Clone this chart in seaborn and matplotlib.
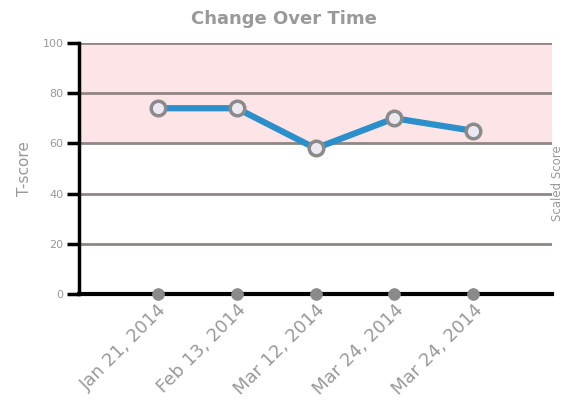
import matplotlib
matplotlib.use("Agg")
import matplotlib.pyplot as plt
import seaborn as sns
import pandas as pd

# data
dates = ["Jan 21, 2014", "Feb 13, 2014", "Mar 12, 2014", "Mar 24, 2014", "Mar 24, 2014"]
tscore = [74, 74, 58, 70, 65]
baseline = [0, 0, 0, 0, 0]
yticks = [0, 20, 40, 60, 80, 100]

df = pd.DataFrame({"pos": range(len(dates)), "date": dates, "tscore": tscore, "base": baseline})

sns.set_style("white")
fig = plt.figure(figsize=(5.68, 4.17), dpi=100)
ax = fig.add_axes([0.139, 0.295, 0.833, 0.602])

# pink band for the elevated range
ax.axhspan(60, 100, color="#fde4e6", zorder=0)
for y in yticks[1:]:
    ax.axhline(y, color="#8f8686", lw=2, zorder=1)

sns.lineplot(data=df, x="pos", y="tscore", ax=ax, color="#2a8fcb", lw=4.5, zorder=3)
sns.scatterplot(data=df, x="pos", y="tscore", ax=ax, s=110, color="#ebe8f2",
                edgecolor="#8a8a8a", linewidth=2.5, zorder=4)
sns.scatterplot(data=df, x="pos", y="base", ax=ax, s=70, color="#8a8a8a",
                edgecolor="#8a8a8a", zorder=4, clip_on=False)

ax.set_xlim(-1, 5)
ax.set_ylim(0, 100)
ax.set_yticks(yticks)
ax.set_yticklabels([str(v) for v in yticks], color="#999999", fontsize=8)
ax.set_xticks(df["pos"])
ax.set_xticklabels(dates, rotation=45, ha="right", rotation_mode="anchor",
                   color="#999999", fontsize=13)
ax.tick_params(axis="y", length=9, width=2.5, color="black", left=True, pad=2)
ax.tick_params(axis="x", length=0, pad=5)

for side in ["top", "right"]:
    ax.spines[side].set_visible(False)
ax.spines["left"].set_color("black")
ax.spines["left"].set_linewidth(2.5)
ax.spines["bottom"].set_color("black")
ax.spines["bottom"].set_linewidth(3)
ax.spines["bottom"].set_zorder(2)

ax.set_xlabel("")
ax.set_ylabel("T-score", color="#999999", fontsize=11, labelpad=8)

fig.suptitle("Change Over Time", x=0.5, y=0.975, color="#999999",
             fontsize=13, fontweight="bold")
fig.text(0.982, 0.56, "Scaled Score", rotation=90, color="#999999",
         fontsize=8.5, ha="center", va="center")

plt.savefig("out.png", dpi=100)
